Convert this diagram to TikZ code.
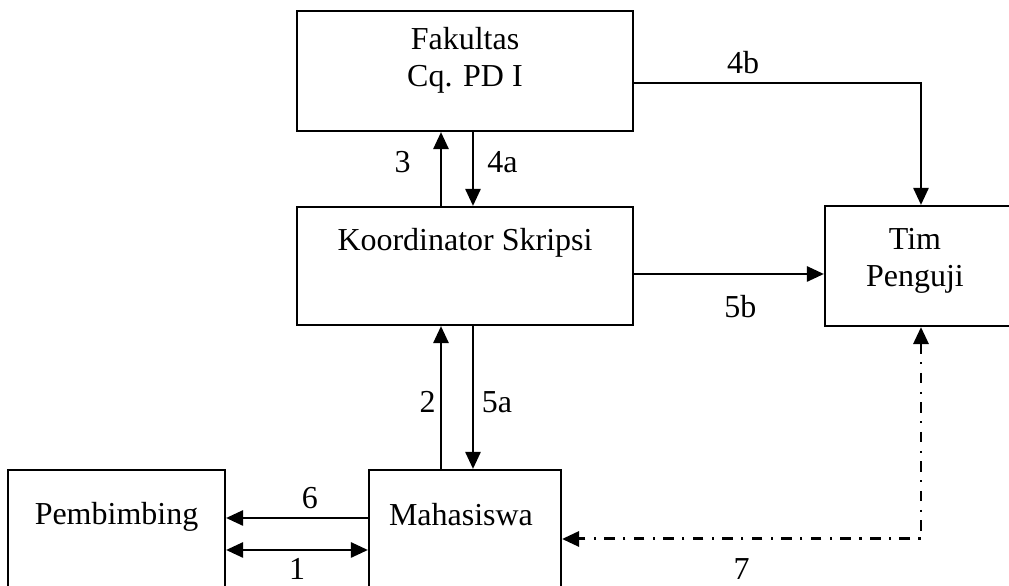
\documentclass[tikz,border=0pt]{standalone}
\usepackage{fontspec}
\setmainfont{Liberation Serif}
\usetikzlibrary{arrows.meta,positioning}

\begin{document}
\begin{tikzpicture}[
    box/.style={rectangle, draw, line width=0.6pt},
    txt/.style={inner sep=0pt, align=center, font=\fontsize{9.1}{10.4}\selectfont},
    num/.style={inner sep=0pt, font=\fontsize{9.1}{10.4}\selectfont},
    arrow/.style={-{Triangle[length=0.17cm, width=0.15cm]}, line width=0.75pt},
    dblarrow/.style={{Triangle[length=0.17cm, width=0.15cm]}-{Triangle[length=0.17cm, width=0.15cm]}, line width=0.75pt},
    dashdot/.style={dblarrow, line width=0.85pt, dash pattern=on 3pt off 2.4pt on 0.6pt off 2.4pt}
]
\useasboundingbox (0,0) rectangle (10.09,5.86);
\clip (0,0) rectangle (10.09,5.86);

% boxes
\node[box, minimum width=3.36cm, minimum height=1.20cm] (fak) at (4.65,5.15) {};
\node[box, minimum width=3.36cm, minimum height=1.18cm] (koor) at (4.65,3.20) {};
\node[box, minimum width=1.92cm, minimum height=1.20cm] (tim) at (9.21,3.20) {};
\node[box, minimum width=2.17cm, minimum height=1.30cm] (pem) at (1.165,0.51) {};
\node[box, minimum width=1.92cm, minimum height=1.30cm] (mah) at (4.65,0.51) {};

% box texts sit near the top edge
\node[txt, below=0.17cm of fak.north] (fak-t) {Fakultas\\Cq. PD I};
\node[txt, below=0.22cm of koor.north] (koor-t) {Koordinator Skripsi};
\node[txt, below=0.23cm of tim.north, xshift=-0.06cm] (tim-t) {Tim\\Penguji};
\node[txt, below=0.33cm of pem.north] (pem-t) {Pembimbing};
\node[txt, below=0.34cm of mah.north, xshift=-0.04cm] (mah-t) {Mahasiswa};

% flows
\draw[arrow] ([xshift=-0.24cm]koor.north) -- node[num, left=0.29cm, yshift=0.07cm] {3} ([xshift=-0.24cm]fak.south);
\draw[arrow] ([xshift=0.08cm]fak.south) -- node[num, right=0.13cm, yshift=0.07cm] {4a} ([xshift=0.08cm]koor.north);
\draw[arrow] ([yshift=-0.12cm]fak.east) -| node[num, above=0.08cm, pos=0.19] {4b} (tim.north);
\draw[arrow] ([yshift=-0.08cm]koor.east) -- node[num, below=0.2cm, pos=0.56] {5b} ([yshift=-0.08cm]tim.west);
\draw[arrow] ([xshift=-0.24cm]mah.north) -- node[num, left=0.04cm, yshift=-0.045cm] {2} ([xshift=-0.24cm]koor.south);
\draw[arrow] ([xshift=0.08cm]koor.south) -- node[num, right=0.075cm, yshift=-0.045cm] {5a} ([xshift=0.08cm]mah.north);
\draw[arrow] ([yshift=0.17cm]mah.west) -- node[num, above=0.08cm, pos=0.41] {6} ([yshift=0.17cm]pem.east);
\draw[dblarrow] ([yshift=-0.15cm]pem.east) -- node[num, below=0.07cm] {1} ([yshift=-0.15cm]mah.west);
\draw[dashdot] (tim.south) |- node[num, below=0.18cm, pos=0.75] {7} ([yshift=-0.04cm]mah.east);
\end{tikzpicture}
\end{document}
